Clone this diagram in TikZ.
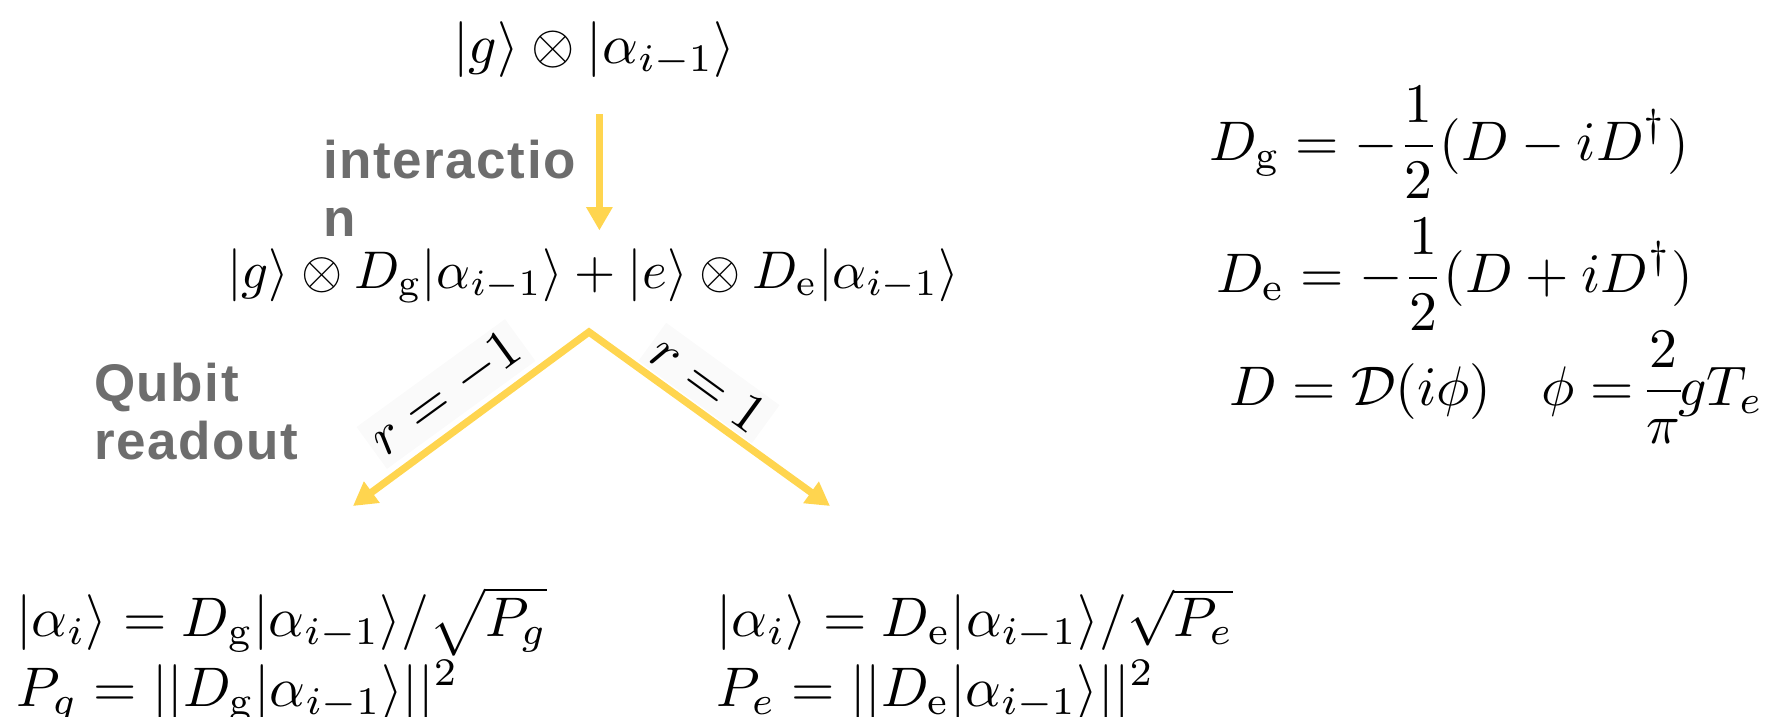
\documentclass[tikz,border=0pt]{standalone}
\usepackage{amsmath,amssymb}
\usepackage{fontspec}
\usepackage{tikz}
\usetikzlibrary{arrows.meta,positioning}
\newfontfamily\labelfont[LetterSpace=3]{Liberation Sans}
\definecolor{ReadYellow}{HTML}{FFD54F}
\definecolor{TagGray}{HTML}{6D6D6D}
\newcommand{\ket}[1]{|#1\rangle}

\begin{document}
\begin{tikzpicture}[x=0.063mm, y=-0.063mm,
  eq/.style={inner sep=0pt, anchor=base west},
  flow/.style={ReadYellow, line width=1.3pt, line join=miter},
  tag/.style={font=\labelfont\bfseries\fontsize{9.5}{10.4}\selectfont, text=TagGray,
    align=left, inner sep=0pt, anchor=north west},
  branch/.style={fill=black!2, inner sep=1pt}]
\useasboundingbox (0,0) rectangle (1775,717);

% States before and after the interaction
\node[eq] (state0) at (452,63) {$\ket{g}\otimes\ket{\alpha_{i-1}}$};
\node[eq, scale=0.95, transform shape] (state1) at (226,288)
  {$\ket{g}\otimes D_{\mathrm{g}}\ket{\alpha_{i-1}} + \ket{e}\otimes D_{\mathrm{e}}\ket{\alpha_{i-1}}$};

% Interaction step
\draw[flow, -{Triangle[width=4.5pt,length=4.2pt]}, shorten <=6.5pt, shorten >=3pt]
  ([xshift=0.9pt]state0.south) -- ([xshift=0.9pt]state0.south |- state1.north);
\node[tag] (interact) at (322,139) {interactio\\n};

% Qubit readout branches
\coordinate (split) at (589,332);
\coordinate (tipG) at (353,506);
\coordinate (tipE) at (830,506);
\draw[flow, {Triangle[width=4.5pt,length=4.2pt]}-{Triangle[width=4.5pt,length=4.2pt]}]
  (tipG) -- (split) -- (tipE);
\node[branch, rotate=36] (readG) at (446,394) {$r=-1$};
\node[branch, rotate=-36] (readE) at (709,383) {$r=1$};
\node[tag] (readout) at (93,362) {Qubit\\readout};

% Post-measurement states
\node[eq] (resG) at (15,636) {$\ket{\alpha_i} = D_{\mathrm{g}}\ket{\alpha_{i-1}}/\sqrt{P_g}$};
\node[eq] (normG) at (15,706) {$P_g = ||D_{\mathrm{g}}\ket{\alpha_{i-1}}||^2$};
\node[eq] (resE) at (715,636) {$\ket{\alpha_i} = D_{\mathrm{e}}\ket{\alpha_{i-1}}/\sqrt{P_e}$};
\node[eq] (normE) at (715,706) {$P_e = ||D_{\mathrm{e}}\ket{\alpha_{i-1}}||^2$};

% Displacement operators
\node[eq] (defDg) at (1208,160) {$\displaystyle D_{\mathrm{g}} = -\frac{1}{2}(D - iD^\dagger)$};
\node[eq] (defDe) at (1215,292) {$\displaystyle D_{\mathrm{e}} = -\frac{1}{2}(D + iD^\dagger)$};
\node[eq] (defD) at (1228,405)
  {$\displaystyle D = \mathcal{D}(i\phi) \hspace{9pt} \phi = \!\frac{2}{\pi}\!gT_e$};
\end{tikzpicture}
\end{document}
